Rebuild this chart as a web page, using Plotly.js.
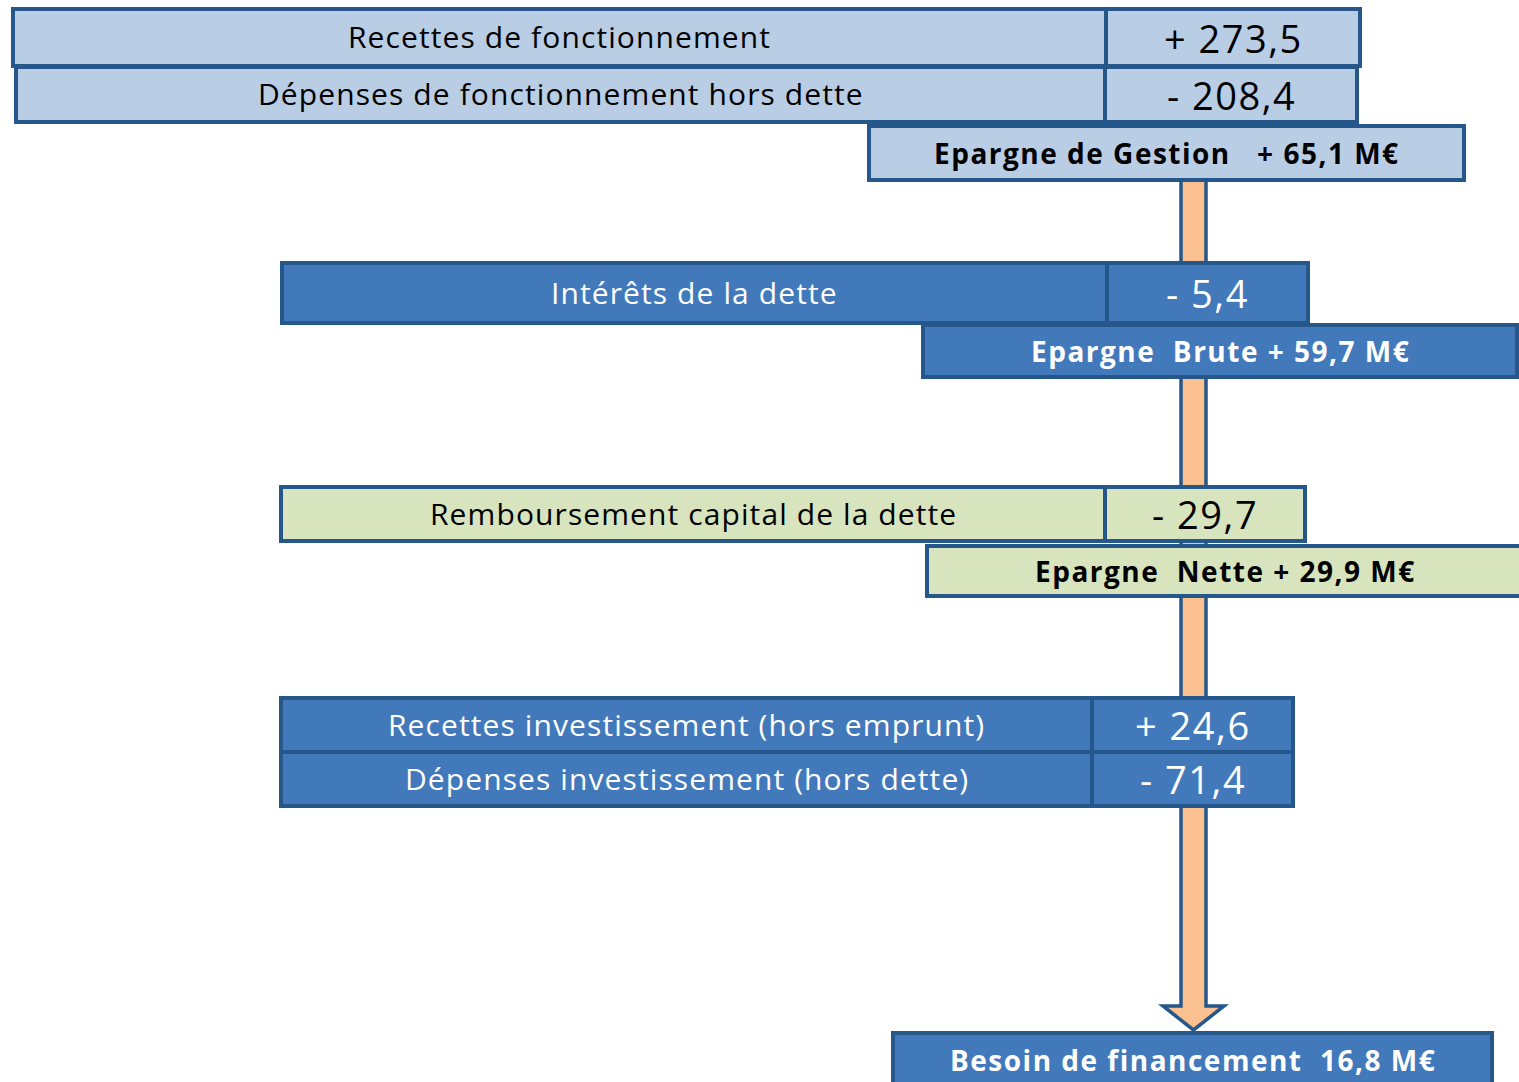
<!DOCTYPE html>
<html>
<head>
<meta charset="utf-8">
<script src="https://cdn.plot.ly/plotly-3.0.1.min.js"></script>
<style>html,body{margin:0;padding:0;background:#fff;}#chart{width:1519px;height:1082px;}</style>
</head>
<body>
<div id="chart"></div>
<script>
// ---- DATA ----
const rowLabels = [
  "Recettes de fonctionnement",
  "Dépenses de fonctionnement hors dette",
  "Intérêts de la dette",
  "Remboursement capital de la dette",
  "Recettes investissement (hors emprunt)",
  "Dépenses investissement (hors dette)"
];
const rowValues = [273.5, -208.4, -5.4, -29.7, 24.6, -71.4];
const summaryLabels = ["Epargne de Gestion\u00a0\u00a0", "Epargne\u00a0\u00a0Brute", "Epargne\u00a0\u00a0Nette", "Besoin de financement\u00a0"];
const summaryValues = [65.1, 59.7, 29.9, 16.8];
const summarySigned = [true, true, true, false];
const unit = "M€";

// ---- STYLE / GEOMETRY ----
const C = {
  light: "#B9CDE5", mid: "#4279BA", green: "#D7E4BD",
  border: "#25578A", arrow: "#FAC090"
};
const rowGeom = [
  {x0: 13,  xs: 1106, x1: 1360, y0: 9,   y1: 66,  fill: C.light, color: "#000"},
  {x0: 16,  xs: 1105, x1: 1357, y0: 67,  y1: 122, fill: C.light, color: "#000"},
  {x0: 282, xs: 1107, x1: 1308, y0: 263, y1: 323, fill: C.mid,   color: "#fff"},
  {x0: 281, xs: 1105, x1: 1305, y0: 487, y1: 541, fill: C.green, color: "#000"},
  {x0: 281, xs: 1092, x1: 1293, y0: 698, y1: 752, fill: C.mid,   color: "#fff"},
  {x0: 281, xs: 1092, x1: 1293, y0: 752, y1: 806, fill: C.mid,   color: "#fff"}
];
const sumGeom = [
  {x0: 869, x1: 1464, y0: 126, y1: 180, fill: C.light, color: "#000"},
  {x0: 923, x1: 1517, y0: 325, y1: 377, fill: C.mid,   color: "#fff"},
  {x0: 927, x1: 1530, y0: 546, y1: 596, fill: C.green, color: "#000"},
  {x0: 893, x1: 1492, y0: 1033, y1: 1100, fill: C.mid, color: "#fff"}
];
const arrowGeom = {xl: 1181, xr: 1206, top: 180, shaftEnd: 1006, hl: 1163, hr: 1224, tip: 1030};

function fmtNum(v) { return Math.abs(v).toFixed(1).replace(".", ","); }
function fmtRow(v) { return (v >= 0 ? "+ " : "- ") + fmtNum(v); }
function fmtSum(v, signed) { return (signed ? "+ " : "") + fmtNum(v) + " " + unit; }
function spaced(t, px) { return '<span style="letter-spacing:' + px + 'px">' + t + '</span>'; }

const FONT = "'Open Sans', 'Noto Sans', sans-serif";
const shapes = [];
const annotations = [];

// arrow (drawn first, below the boxes)
const a = arrowGeom;
shapes.push({
  type: "path", xref: "x", yref: "y",
  path: `M${a.xl},${a.top} L${a.xl},${a.shaftEnd} L${a.hl},${a.shaftEnd} L${(a.xl + a.xr) / 2},${a.tip} L${a.hr},${a.shaftEnd} L${a.xr},${a.shaftEnd} L${a.xr},${a.top} Z`,
  fillcolor: C.arrow, line: {color: C.border, width: 3.5}
});

rowLabels.forEach((lab, i) => {
  const g = rowGeom[i];
  shapes.push({type: "rect", xref: "x", yref: "y", x0: g.x0, x1: g.xs, y0: g.y0, y1: g.y1,
    fillcolor: g.fill, line: {color: C.border, width: 4}});
  shapes.push({type: "rect", xref: "x", yref: "y", x0: g.xs, x1: g.x1, y0: g.y0, y1: g.y1,
    fillcolor: g.fill, line: {color: C.border, width: 4}});
  annotations.push({x: (g.x0 + g.xs) / 2, y: (g.y0 + g.y1) / 2 - 1, xref: "x", yref: "y",
    text: spaced(lab, 1.1), showarrow: false, xanchor: "center", yanchor: "middle",
    font: {family: FONT, size: 30, color: g.color}});
  annotations.push({x: (g.xs + g.x1) / 2, y: (g.y0 + g.y1) / 2, xref: "x", yref: "y",
    text: spaced(fmtRow(rowValues[i]), 1.5), showarrow: false, xanchor: "center", yanchor: "middle",
    font: {family: FONT, size: 38, color: g.color}});
});

summaryLabels.forEach((lab, i) => {
  const g = sumGeom[i];
  shapes.push({type: "rect", xref: "x", yref: "y", x0: g.x0, x1: g.x1, y0: g.y0, y1: g.y1,
    fillcolor: g.fill, line: {color: C.border, width: 4}});
  const yMid = i === 3 ? 1060 : (g.y0 + g.y1) / 2;
  annotations.push({x: i === 3 ? 1193 : (g.x0 + Math.min(g.x1, 1517)) / 2 + (i === 2 ? 3 : 0), y: yMid, xref: "x", yref: "y",
    text: "<b>" + spaced(lab + " " + fmtSum(summaryValues[i], summarySigned[i]), 1.5) + "</b>",
    showarrow: false, xanchor: "center", yanchor: "middle",
    font: {family: FONT, size: 28, color: g.color}});
});

const layout = {
  width: 1519, height: 1082,
  margin: {l: 0, r: 0, t: 0, b: 0, pad: 0},
  paper_bgcolor: "#fff", plot_bgcolor: "#fff",
  xaxis: {range: [0, 1519], visible: false, fixedrange: true},
  yaxis: {range: [1082, 0], visible: false, fixedrange: true},
  shapes: shapes, annotations: annotations, showlegend: false
};
Plotly.newPlot("chart", [], layout, {displayModeBar: false, staticPlot: true});
</script>
</body>
</html>
